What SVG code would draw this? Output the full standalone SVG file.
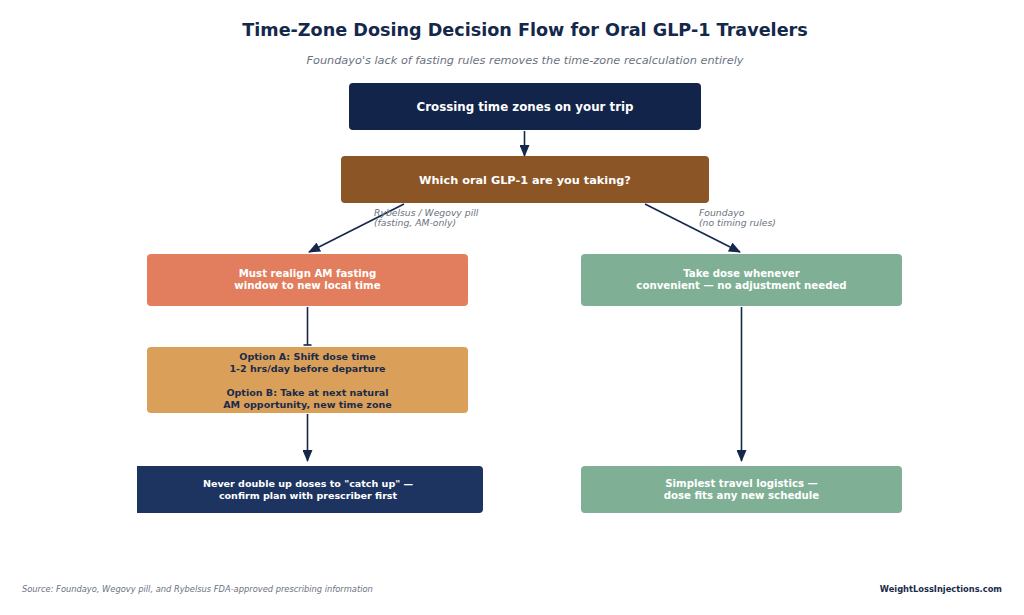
<svg xmlns="http://www.w3.org/2000/svg" width="1024" height="615" viewBox="0 0 1024 615">
<defs>
<marker id="ah" markerWidth="12" markerHeight="10" refX="11" refY="5" orient="auto" markerUnits="userSpaceOnUse">
<path d="M0,0 L12,5 L0,10 Z" fill="#14284b"/>
</marker>
<style>
text{font-family:"DejaVu Sans","Liberation Sans",sans-serif;text-anchor:middle}
.t{font-weight:bold;fill:#ffffff}
.d{font-weight:bold;fill:#1a2b4a}
.lbl{font-style:italic;fill:#6b7280;font-size:9.25px;text-anchor:start}
.c{stroke:#14284b;stroke-width:1.6;fill:none}
</style>
</defs>
<rect width="1024" height="615" fill="#ffffff"/>
<text x="525" y="36" font-size="17.6" font-weight="bold" fill="#14284b">Time-Zone Dosing Decision Flow for Oral GLP-1 Travelers</text>
<text x="525" y="64" font-size="11.3" font-style="italic" fill="#6b7280">Foundayo's lack of fasting rules removes the time-zone recalculation entirely</text>

<g id="connectors">
<line class="c" x1="524.5" y1="131" x2="524.5" y2="156" marker-end="url(#ah)"/>
<line class="c" x1="404" y1="204" x2="309" y2="252" marker-end="url(#ah)"/>
<line class="c" x1="645" y1="204" x2="740" y2="252" marker-end="url(#ah)"/>
<line class="c" x1="307.5" y1="307" x2="307.5" y2="345"/>
<line class="c" x1="303.5" y1="345" x2="311.5" y2="345"/>
<line class="c" x1="307.5" y1="414" x2="307.5" y2="461" marker-end="url(#ah)"/>
<line class="c" x1="741.5" y1="307" x2="741.5" y2="461" marker-end="url(#ah)"/>
<text class="lbl" x="374" y="216">Rybelsus / Wegovy pill</text>
<text class="lbl" x="374" y="226">(fasting, AM-only)</text>
<text class="lbl" x="699" y="216">Foundayo</text>
<text class="lbl" x="699" y="226">(no timing rules)</text>
</g>

<g id="n1">
<rect x="349" y="83" width="352" height="47" rx="4" fill="#12244a"/>
<text class="t" x="525" y="110.5" font-size="11.8">Crossing time zones on your trip</text>
</g>
<g id="n2">
<rect x="341" y="156" width="368" height="47" rx="4" fill="#8b5526"/>
<text class="t" x="525" y="183.5" font-size="11.3">Which oral GLP-1 are you taking?</text>
</g>
<g id="n3">
<rect x="147" y="254" width="321" height="52" rx="4" fill="#e27d5e"/>
<text class="t" x="307.5" y="277" font-size="10.2">Must realign AM fasting</text>
<text class="t" x="307.5" y="289" font-size="10.2">window to new local time</text>
</g>
<g id="n4">
<rect x="581" y="254" width="321" height="52" rx="4" fill="#7fb096"/>
<text class="t" x="741.5" y="277" font-size="10.2">Take dose whenever</text>
<text class="t" x="741.5" y="289" font-size="10.2">convenient — no adjustment needed</text>
</g>
<g id="n5">
<rect x="147" y="347" width="321" height="66" rx="4" fill="#daa05a"/>
<text class="d" x="307.5" y="360" font-size="9.55">Option A: Shift dose time</text>
<text class="d" x="307.5" y="372" font-size="9.55">1-2 hrs/day before departure</text>
<text class="d" x="307.5" y="396" font-size="9.55">Option B: Take at next natural</text>
<text class="d" x="307.5" y="408" font-size="9.55">AM opportunity, new time zone</text>
</g>
<g id="n6">
<path d="M137,466 H479 A4,4 0 0 1 483,470 V509 A4,4 0 0 1 479,513 H137 Z" fill="#1d3461"/>
<text class="t" x="308" y="487" font-size="9.55">Never double up doses to "catch up" —</text>
<text class="t" x="308" y="499" font-size="9.55">confirm plan with prescriber first</text>
</g>
<g id="n7">
<rect x="581" y="466" width="321" height="47" rx="4" fill="#7fb096"/>
<text class="t" x="741.5" y="487" font-size="10.2">Simplest travel logistics —</text>
<text class="t" x="741.5" y="499" font-size="10.2">dose fits any new schedule</text>
</g>

<text x="22" y="592" font-size="8.3" font-style="italic" fill="#6b7280" style="text-anchor:start">Source: Foundayo, Wegovy pill, and Rybelsus FDA-approved prescribing information</text>
<text x="1002" y="592" font-size="8.3" font-weight="bold" fill="#1a2b4a" style="text-anchor:end">WeightLossInjections.com</text>
</svg>
